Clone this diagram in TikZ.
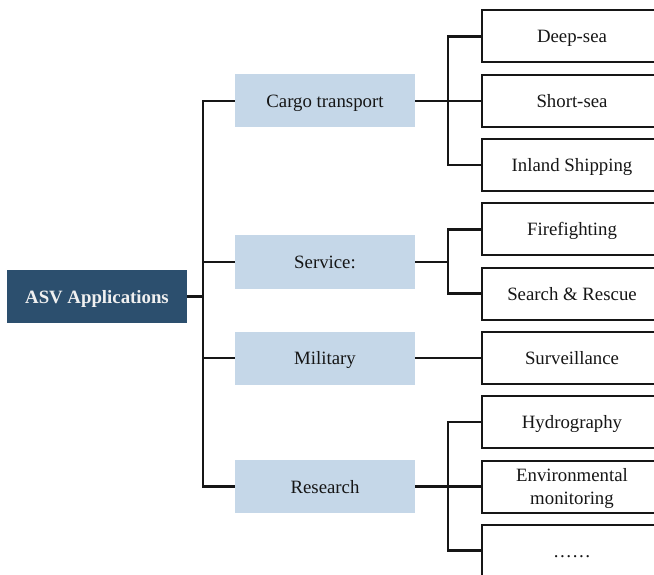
\documentclass[tikz,border=0pt]{standalone}
\usepackage{fontspec}
\setmainfont{Liberation Serif}
\usepackage{tikz}
\usepackage{xcolor}
\usetikzlibrary{positioning,calc}
\definecolor{rootblue}{HTML}{2C4F6E}
\definecolor{lightblue}{HTML}{C5D7E8}
\definecolor{ink}{HTML}{161616}
\definecolor{rootink}{HTML}{F0F0F0}
\tikzset{
  rootbox/.style={fill=rootblue,draw=none,minimum width=180pt,minimum height=53pt,
                  inner sep=0pt,text height=14pt,text depth=1pt,
                  text=rootink,font=\fontsize{18.8}{23}\selectfont\bfseries},
  catbox/.style={fill=lightblue,draw=none,minimum width=180pt,minimum height=53pt,
                 inner sep=0pt,text height=14pt,text depth=1pt,
                 text=ink,font=\fontsize{18.8}{23}\selectfont},
  leafbox/.style={fill=white,draw=ink,line width=2pt,minimum width=180pt,minimum height=52pt,
                  inner sep=0pt,text height=14pt,text depth=1pt,align=center,
                  text=ink,font=\fontsize{18.8}{23}\selectfont},
  link/.style={draw=ink,line width=2.1pt,line join=miter}
}
\begin{document}
\begin{tikzpicture}[x=1pt,y=-1pt]
      \useasboundingbox (0,0) rectangle (654,575);
      \node[rootbox] (root) at (97,296.5) {ASV Applications};

      \node[catbox] (cargo) at (325,101) {Cargo transport};
      \node[catbox] (service) at (325,262) {Service:};
      \node[catbox] (military) at (325,358) {Military};
      \node[catbox] (research) at (325,486.5) {Research};

      \node[leafbox] (deep) at (572,36.5) {Deep-sea};
      \node[leafbox] (short) at (572,101) {Short-sea};
      \node[leafbox] (inland) at (572,165) {Inland Shipping};
      \node[leafbox] (fire) at (572,229.5) {Firefighting};
      \node[leafbox] (rescue) at (572,293.5) {Search \& Rescue};
      \node[leafbox] (surv) at (572,358) {Surveillance};
      \node[leafbox] (hydro) at (572,422) {Hydrography};
      \node[leafbox,text height=,text depth=0pt] (env) at (572,486.5) {Environmental\\monitoring};
      \node[leafbox] (more) at (572,550.5) {……};

      % trunk from the root
      \coordinate (rj) at (203,296.5);
      \draw[link] (root.east) -- (rj);
      \foreach \n in {cargo,service,military,research}
        \draw[link] (rj) |- (\n.west);

      % branches to the leaves
      \coordinate (cj) at (448,101);
      \draw[link] (cargo.east) -- (cj);
      \foreach \n in {deep,short,inland}
        \draw[link] (cj) |- (\n.west);

      \coordinate (sj) at (448,262);
      \draw[link] (service.east) -- (sj);
      \foreach \n in {fire,rescue}
        \draw[link] (sj) |- (\n.west);

      \draw[link] (military.east) -- (surv.west);

      \coordinate (rsj) at (448,486.5);
      \draw[link] (research.east) -- (rsj);
      \foreach \n in {hydro,env,more}
        \draw[link] (rsj) |- (\n.west);
    \end{tikzpicture}
\end{document}
